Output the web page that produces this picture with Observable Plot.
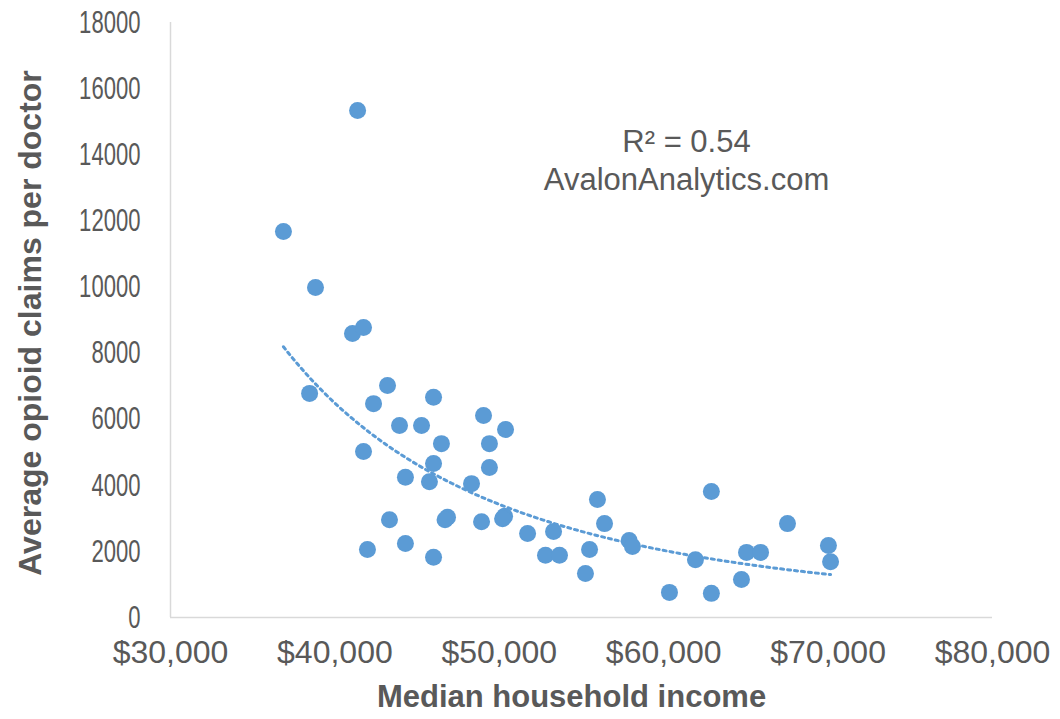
<!DOCTYPE html>
<html><head><meta charset="utf-8">
<script src="https://cdn.jsdelivr.net/npm/d3@7"></script>
<script src="https://cdn.jsdelivr.net/npm/@observablehq/plot@0.6"></script>
<style>html,body{margin:0;padding:0;background:#fff}</style>
</head><body><div id="chart"></div>
<script>
// Median household income (USD) per point
const income = [36870, 38820, 41380, 41070, 41740, 38460, 43200, 42350, 46000, 43930,
  45270, 46480, 49040, 50380, 49400, 41740, 46000, 49400, 44290, 45750,
  48310, 55970, 62900, 43320, 46850, 46700, 48920, 50320, 50200, 51720,
  53300, 52810, 53660, 41980, 44290, 46000, 55490, 56400, 57900, 58100,
  55240, 60350, 61930, 62900, 65040, 65890, 64730, 67530, 70020, 70150];
// Average opioid claims per doctor per point
const claims = [11680, 9980, 15340, 8590, 8770, 6780, 7020, 6470, 6660, 5810,
  5810, 5260, 6110, 5690, 5260, 5020, 4660, 4540, 4240, 4110,
  4050, 3570, 3810, 2960, 3030, 2960, 2900, 3060, 2990, 2540,
  2600, 1880, 1880, 2060, 2240, 1820, 2060, 2840, 2330, 2150,
  1330, 760, 1750, 730, 1970, 1970, 1150, 2840, 2180, 1690];
const xTicks = [30000, 40000, 50000, 60000, 70000, 80000];
const yTicks = [0, 2000, 4000, 6000, 8000, 10000, 12000, 14000, 16000, 18000];
const xTitle = "Median household income";
const yTitle = "Average opioid claims per doctor";
const r2Label = "R² = 0.54";
const sourceLabel = "AvalonAnalytics.com";

const data = income.map((x, i) => ({x, y: claims[i]}));

// Power trendline (y = a·x^b), least squares in log-log space, over the data range
const lx = data.map(d => Math.log(d.x)), ly = data.map(d => Math.log(d.y));
const mx = d3.mean(lx), my = d3.mean(ly);
const b = d3.sum(lx, (v, i) => (v - mx) * (ly[i] - my)) / d3.sum(lx, v => (v - mx) ** 2);
const a = Math.exp(my - b * mx);
const [x0, x1] = d3.extent(income);
const trend = d3.range(0, 121).map(i => { const x = x0 + (x1 - x0) * i / 120; return {x, y: a * Math.pow(x, b)}; });

const blue = "#5B9BD5", grey = "#595959";
const chart = Plot.plot({
  width: 1060, height: 719,
  marginLeft: 170, marginRight: 68, marginTop: 22, marginBottom: 102,
  style: {fontFamily: "'Liberation Sans', Arial, sans-serif", fontSize: "32px", color: grey, background: "#fff", overflow: "visible"},
  x: {domain: [30000, 80000]},
  y: {domain: [0, 18000]},
  marks: [
    Plot.ruleY([0], {stroke: "#d9d9d9", strokeWidth: 1.5}),
    Plot.ruleX([30000], {stroke: "#d9d9d9", strokeWidth: 1.5}),
    Plot.axisX({ticks: xTicks, tickFormat: d3.format("$,"), tickSize: 0, tickPadding: 23, label: null, fill: grey, fontSize: 32}),
    Plot.axisY({ticks: yTicks, tickFormat: d => String(d), tickSize: 0, tickPadding: 30, label: null, fill: grey, fontSize: 32}),
    Plot.line(trend, {x: "x", y: "y", stroke: blue, strokeWidth: 3, strokeDasharray: "3 4"}),
    Plot.dot(data, {x: "x", y: "y", r: 8.5, fill: blue}),
    Plot.text([xTitle], {text: d => d, frameAnchor: "bottom", textAnchor: "middle", dx: -10, dy: 89, fontWeight: "bold", fontSize: 31, fill: grey}),
    Plot.text([yTitle], {text: d => d, frameAnchor: "left", textAnchor: "middle", rotate: -90, dx: -140, dy: 3, fontWeight: "bold", fontSize: 32, fill: grey}),
    Plot.text([r2Label + "\n" + sourceLabel], {text: d => d, frameAnchor: "top", textAnchor: "middle", dx: 105, dy: 102, fontSize: 31, lineHeight: 1.23, fill: grey})
  ]
});
document.getElementById("chart").appendChild(chart);

// y tick labels appear horizontally condensed in the reference
chart.querySelectorAll('g[aria-label="y-axis tick label"] text').forEach(t => {
  const tr = t.getAttribute("transform");
  if (tr) t.setAttribute("transform", tr + " scale(0.69,1)");
  else {
    const x = +t.getAttribute("x") || 0, y = +t.getAttribute("y") || 0;
    t.removeAttribute("x"); t.removeAttribute("y");
    t.setAttribute("transform", `translate(${x},${y}) scale(0.69,1)`);
  }
});
</script></body></html>
